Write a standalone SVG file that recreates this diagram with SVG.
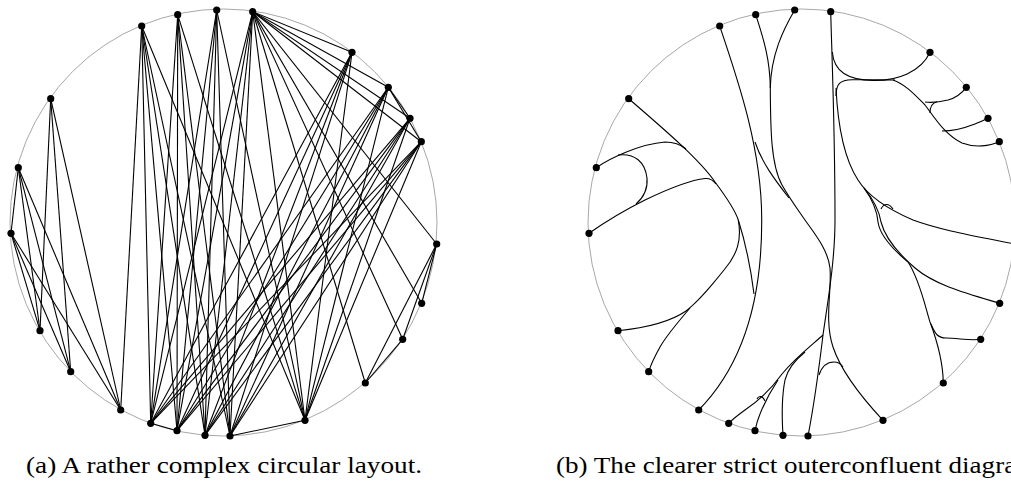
<svg xmlns="http://www.w3.org/2000/svg" width="1011" height="487" viewBox="0 0 1011 487">
<style>
.ring{fill:none;stroke:#a8a8a8;stroke-width:1}
.e line{stroke:#000;stroke-width:1.1}
.c path{fill:none;stroke:#000;stroke-width:1.1}
.n{fill:#000}
.cap{font-family:"Liberation Serif","DejaVu Serif",serif;font-size:23px;fill:#000}
</style>
<rect width="1011" height="487" fill="#fff"/>
<circle class="ring" cx="223.5" cy="222.5" r="213.5"/>
<circle class="ring" cx="801.5" cy="222.5" r="213.5"/>

<g id="edges-a" class="e">
<line x1="11" y1="233.3" x2="120.7" y2="410"/>
<line x1="11" y1="233.3" x2="70.7" y2="371.7"/>
<line x1="11" y1="233.3" x2="40" y2="330.7"/>
<line x1="18.3" y1="167.7" x2="120.7" y2="410"/>
<line x1="18.3" y1="167.7" x2="70.7" y2="371.7"/>
<line x1="18.3" y1="167.7" x2="40" y2="330.7"/>
<line x1="50.7" y1="98.7" x2="120.7" y2="410"/>
<line x1="50.7" y1="98.7" x2="70.7" y2="371.7"/>
<line x1="50.7" y1="98.7" x2="40" y2="330.7"/>
<line x1="11" y1="233.3" x2="18.3" y2="167.7"/>
<line x1="141.7" y1="26" x2="120.7" y2="410"/>
<line x1="305" y1="420.3" x2="230" y2="436"/>
<line x1="252.7" y1="11.7" x2="352" y2="52.3"/>
<line x1="252.7" y1="11.7" x2="388.3" y2="87.3"/>
<line x1="252.7" y1="11.7" x2="410" y2="118.3"/>
<line x1="252.7" y1="11.7" x2="421.3" y2="141.7"/>
<line x1="252.7" y1="11.7" x2="436.7" y2="244"/>
<line x1="252.7" y1="11.7" x2="421.7" y2="303.3"/>
<line x1="252.7" y1="11.7" x2="402.7" y2="339.3"/>
<line x1="252.7" y1="11.7" x2="365.3" y2="383"/>
<line x1="436.7" y1="244" x2="421.7" y2="303.3"/>
<line x1="436.7" y1="244" x2="402.7" y2="339.3"/>
<line x1="436.7" y1="244" x2="365.3" y2="383"/>
<line x1="177" y1="430.7" x2="150.7" y2="423.3"/>
<line x1="388.3" y1="87.3" x2="410" y2="118.3"/>
<line x1="388.3" y1="87.3" x2="421.3" y2="141.7"/>
<line x1="402.7" y1="339.3" x2="365.3" y2="383"/>
<line x1="141.7" y1="26" x2="305" y2="420.3"/>
<line x1="141.7" y1="26" x2="230" y2="436"/>
<line x1="141.7" y1="26" x2="205" y2="435.3"/>
<line x1="141.7" y1="26" x2="177" y2="430.7"/>
<line x1="141.7" y1="26" x2="150.7" y2="423.3"/>
<line x1="177.7" y1="14.7" x2="305" y2="420.3"/>
<line x1="177.7" y1="14.7" x2="230" y2="436"/>
<line x1="177.7" y1="14.7" x2="205" y2="435.3"/>
<line x1="177.7" y1="14.7" x2="177" y2="430.7"/>
<line x1="177.7" y1="14.7" x2="150.7" y2="423.3"/>
<line x1="216.7" y1="10" x2="305" y2="420.3"/>
<line x1="216.7" y1="10" x2="230" y2="436"/>
<line x1="216.7" y1="10" x2="205" y2="435.3"/>
<line x1="216.7" y1="10" x2="177" y2="430.7"/>
<line x1="216.7" y1="10" x2="150.7" y2="423.3"/>
<line x1="252.7" y1="11.7" x2="305" y2="420.3"/>
<line x1="252.7" y1="11.7" x2="230" y2="436"/>
<line x1="252.7" y1="11.7" x2="205" y2="435.3"/>
<line x1="252.7" y1="11.7" x2="177" y2="430.7"/>
<line x1="252.7" y1="11.7" x2="150.7" y2="423.3"/>
<line x1="352" y1="52.3" x2="305" y2="420.3"/>
<line x1="352" y1="52.3" x2="230" y2="436"/>
<line x1="352" y1="52.3" x2="205" y2="435.3"/>
<line x1="352" y1="52.3" x2="177" y2="430.7"/>
<line x1="352" y1="52.3" x2="150.7" y2="423.3"/>
<line x1="388.3" y1="87.3" x2="305" y2="420.3"/>
<line x1="388.3" y1="87.3" x2="230" y2="436"/>
<line x1="388.3" y1="87.3" x2="205" y2="435.3"/>
<line x1="388.3" y1="87.3" x2="177" y2="430.7"/>
<line x1="388.3" y1="87.3" x2="150.7" y2="423.3"/>
<line x1="410" y1="118.3" x2="305" y2="420.3"/>
<line x1="410" y1="118.3" x2="230" y2="436"/>
<line x1="410" y1="118.3" x2="205" y2="435.3"/>
<line x1="410" y1="118.3" x2="177" y2="430.7"/>
<line x1="410" y1="118.3" x2="150.7" y2="423.3"/>
<line x1="421.3" y1="141.7" x2="305" y2="420.3"/>
<line x1="421.3" y1="141.7" x2="230" y2="436"/>
<line x1="421.3" y1="141.7" x2="205" y2="435.3"/>
<line x1="421.3" y1="141.7" x2="177" y2="430.7"/>
<line x1="421.3" y1="141.7" x2="150.7" y2="423.3"/>
</g>

<g id="edges-b" class="c">
<path d="M719.7,26 C738,80 762,150 761.7,220 C762,290 748,360 698.7,410"/>
<path d="M755,142 C762,163 775,180 789,198"/>
<path d="M755.7,14.7 C764,40 770,60 770.3,88"/>
<path d="M794.7,10 C783,30 771,55 770.3,88"/>
<path d="M770.3,88 C770.5,130 771,165 782,185 C790,199 798,210 805,220 C815,234 828,250 830,268 C832,290 824,320 833,347 C838,362 850,385 883,420.3"/>
<path d="M830.7,11.7 C832,60 835,130 835,220 C835,260 828,300 823,335 C820,360 815,400 808,436"/>
<path d="M832.3,52 C834,72 848,80 873,80.5 C897,81 921,72 930,52.3"/>
<path d="M836,96 C836,84 840,80 852,79.8 C866,79.6 880,80 895,80"/>
<path d="M893,80 C905,84 915,95 925,105 C935,118 945,135 962,143 C975,148 990,146 999.3,141.7"/>
<path d="M925,102 C932,103 940,102 948,100 C955,98 962,93 966.3,87.3"/>
<path d="M930,113 C930,107 932,103 937,101.8"/>
<path d="M942,131 C952,131 962,129 972,125 C978,123 984,120 988,118.3"/>
<path d="M836,88 C838,130 845,160 858,180 C868,196 885,208 913,220 C940,230 975,236 1014.7,244"/>
<path d="M864,188 C872,199 877,209 878,222 C880,236 896,252 908,262 C920,280 926,310 930,322 C936,338 943,360 943.3,383"/>
<path d="M864,188 C873,199 879,209 881,222 C885,238 900,255 915,268 C935,285 965,293 999.7,303.3"/>
<path d="M881,209 C884,203 889,203 893,209"/>
<path d="M931,324 C935,334 938,338 946,338 C958,338 970,341 980.7,339.3"/>
<path d="M628.7,98.7 C665,130 700,160 715,182 C727,198 735,210 738.3,220"/>
<path d="M596.3,167.7 C610,158 640,144 665,142 C673,142 680,144 686,149"/>
<path d="M618,155 C635,153 645,162 647,178 C648,190 643,198 636,204"/>
<path d="M589,233.3 C605,222 625,210 645,200 C670,188 690,180 705,178.5 C710,178 713,180 716,184"/>
<path d="M738.3,220 C742,240 737,255 724,270 C712,285 700,300 686,311 C670,322 645,328 618,330.7"/>
<path d="M690,308 C678,322 665,338 660,347 C655,356 651,364 648.7,371.7"/>
<path d="M738.3,220 C744,238 750,262 754,294"/>
<path d="M823,335 C812,345 795,358 782,374 C772,388 760,400 745,410 C738,415 733,419 728.7,423.3"/>
<path d="M778,380 C770,392 764,404 760,414 C757,421 756,426 755,430.7"/>
<path d="M757,399 C759,395 763,396 765,401"/>
<path d="M783,435.3 C782,420 782,395 785,380 C788,368 795,360 805,352"/>
<path d="M819,375 C822,366 828,362 834,362 C838,362 841,364 843,367"/>
</g>

<g id="a-n1"><circle class="n" cx="141.7" cy="26" r="3.6"/></g>
<g id="a-n2"><circle class="n" cx="177.7" cy="14.7" r="3.6"/></g>
<g id="a-n3"><circle class="n" cx="216.7" cy="10" r="3.6"/></g>
<g id="a-n4"><circle class="n" cx="252.7" cy="11.7" r="3.6"/></g>
<g id="a-n5"><circle class="n" cx="352" cy="52.3" r="3.6"/></g>
<g id="a-n6"><circle class="n" cx="388.3" cy="87.3" r="3.6"/></g>
<g id="a-n7"><circle class="n" cx="410" cy="118.3" r="3.6"/></g>
<g id="a-n8"><circle class="n" cx="421.3" cy="141.7" r="3.6"/></g>
<g id="a-n9"><circle class="n" cx="436.7" cy="244" r="3.6"/></g>
<g id="a-n10"><circle class="n" cx="421.7" cy="303.3" r="3.6"/></g>
<g id="a-n11"><circle class="n" cx="402.7" cy="339.3" r="3.6"/></g>
<g id="a-n12"><circle class="n" cx="365.3" cy="383" r="3.6"/></g>
<g id="a-n13"><circle class="n" cx="305" cy="420.3" r="3.6"/></g>
<g id="a-n14"><circle class="n" cx="230" cy="436" r="3.6"/></g>
<g id="a-n15"><circle class="n" cx="205" cy="435.3" r="3.6"/></g>
<g id="a-n16"><circle class="n" cx="177" cy="430.7" r="3.6"/></g>
<g id="a-n17"><circle class="n" cx="150.7" cy="423.3" r="3.6"/></g>
<g id="a-n18"><circle class="n" cx="120.7" cy="410" r="3.6"/></g>
<g id="a-n19"><circle class="n" cx="70.7" cy="371.7" r="3.6"/></g>
<g id="a-n20"><circle class="n" cx="40" cy="330.7" r="3.6"/></g>
<g id="a-n21"><circle class="n" cx="11" cy="233.3" r="3.6"/></g>
<g id="a-n22"><circle class="n" cx="18.3" cy="167.7" r="3.6"/></g>
<g id="a-n23"><circle class="n" cx="50.7" cy="98.7" r="3.6"/></g>

<g id="b-n1"><circle class="n" cx="719.7" cy="26" r="3.6"/></g>
<g id="b-n2"><circle class="n" cx="755.7" cy="14.7" r="3.6"/></g>
<g id="b-n3"><circle class="n" cx="794.7" cy="10" r="3.6"/></g>
<g id="b-n4"><circle class="n" cx="830.7" cy="11.7" r="3.6"/></g>
<g id="b-n5"><circle class="n" cx="930" cy="52.3" r="3.6"/></g>
<g id="b-n6"><circle class="n" cx="966.3" cy="87.3" r="3.6"/></g>
<g id="b-n7"><circle class="n" cx="988" cy="118.3" r="3.6"/></g>
<g id="b-n8"><circle class="n" cx="999.3" cy="141.7" r="3.6"/></g>
<g id="b-n9"><circle class="n" cx="1014.7" cy="244" r="3.6"/></g>
<g id="b-n10"><circle class="n" cx="999.7" cy="303.3" r="3.6"/></g>
<g id="b-n11"><circle class="n" cx="980.7" cy="339.3" r="3.6"/></g>
<g id="b-n12"><circle class="n" cx="943.3" cy="383" r="3.6"/></g>
<g id="b-n13"><circle class="n" cx="883" cy="420.3" r="3.6"/></g>
<g id="b-n14"><circle class="n" cx="808" cy="436" r="3.6"/></g>
<g id="b-n15"><circle class="n" cx="783" cy="435.3" r="3.6"/></g>
<g id="b-n16"><circle class="n" cx="755" cy="430.7" r="3.6"/></g>
<g id="b-n17"><circle class="n" cx="728.7" cy="423.3" r="3.6"/></g>
<g id="b-n18"><circle class="n" cx="698.7" cy="410" r="3.6"/></g>
<g id="b-n19"><circle class="n" cx="648.7" cy="371.7" r="3.6"/></g>
<g id="b-n20"><circle class="n" cx="618" cy="330.7" r="3.6"/></g>
<g id="b-n21"><circle class="n" cx="589" cy="233.3" r="3.6"/></g>
<g id="b-n22"><circle class="n" cx="596.3" cy="167.7" r="3.6"/></g>
<g id="b-n23"><circle class="n" cx="628.7" cy="98.7" r="3.6"/></g>

<text class="cap" x="26" y="473" textLength="396" lengthAdjust="spacingAndGlyphs">(a) A rather complex circular layout.</text>
<text class="cap" x="556" y="473" textLength="488" lengthAdjust="spacingAndGlyphs">(b) The clearer strict outerconfluent diagram.</text>
</svg>
